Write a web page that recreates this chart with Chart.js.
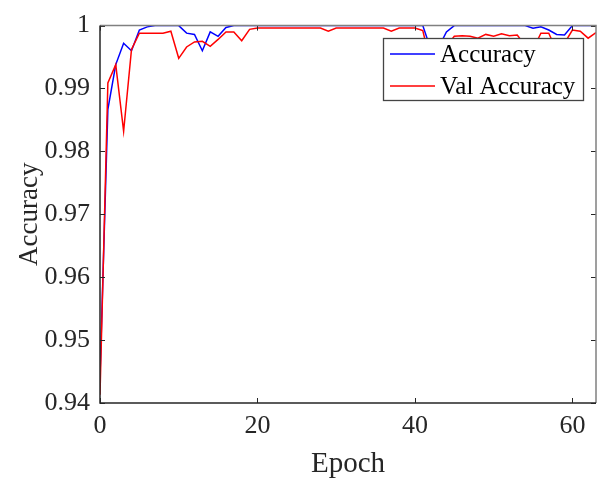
<!DOCTYPE html>
<html>
<head>
<meta charset="utf-8">
<script src="https://cdn.jsdelivr.net/npm/chart.js@4/dist/chart.umd.min.js"></script>
<style>
  html, body { margin: 0; padding: 0; background: #fff; }
  #wrap { width: 597px; height: 480px; }
</style>
</head>
<body>
<div id="wrap"><canvas id="chart" width="597" height="480"></canvas></div>
<script>
// epochs 0..63
const epochs = [
  0, 1, 2, 3, 4, 5, 6, 7, 8, 9, 10, 11, 12, 13, 14, 15,
  16, 17, 18, 19, 20, 21, 22, 23, 24, 25, 26, 27, 28, 29, 30, 31,
  32, 33, 34, 35, 36, 37, 38, 39, 40, 41, 42, 43, 44, 45, 46, 47,
  48, 49, 50, 51, 52, 53, 54, 55, 56, 57, 58, 59, 60, 61, 62, 63
];

const accuracy = [
  0.9442, 0.9867, 0.9938, 0.9972, 0.9960, 0.9993, 0.9998, 1.0000,
  1.0000, 1.0000, 1.0000, 0.9988, 0.9986, 0.9960, 0.9990, 0.9983,
  0.9997, 1.0000, 1.0000, 1.0000, 1.0000, 1.0000, 1.0000, 1.0000,
  1.0000, 1.0000, 1.0000, 1.0000, 1.0000, 1.0000, 1.0000, 1.0000,
  1.0000, 1.0000, 1.0000, 1.0000, 1.0000, 1.0000, 1.0000, 1.0000,
  1.0000, 1.0000, 0.9963, 0.9965, 0.9990, 1.0000, 1.0000, 1.0000,
  1.0000, 1.0000, 1.0000, 1.0000, 1.0000, 1.0000, 1.0000, 0.9996,
  0.9998, 0.9993, 0.9986, 0.9985, 1.0000, 1.0000, 1.0000, 1.0000
];

const valAccuracy = [
  0.9413, 0.9909, 0.9938, 0.9832, 0.9962, 0.9988, 0.9988, 0.9988,
  0.9988, 0.9991, 0.9948, 0.9966, 0.9974, 0.9975, 0.9967, 0.9978,
  0.9990, 0.9990, 0.9976, 0.9994, 0.9996, 0.9996, 0.9996, 0.9996,
  0.9996, 0.9996, 0.9996, 0.9996, 0.9996, 0.9991, 0.9996, 0.9996,
  0.9996, 0.9996, 0.9996, 0.9996, 0.9996, 0.9991, 0.9996, 0.9996,
  0.9996, 0.9992, 0.9940, 0.9955, 0.9967, 0.9983, 0.9984, 0.9983,
  0.9980, 0.9986, 0.9983, 0.9987, 0.9984, 0.9985, 0.9968, 0.9962,
  0.9988, 0.9988, 0.9960, 0.9972, 0.9993, 0.9991, 0.9980, 0.9989
];

const xTicks = [0, 20, 40, 60];
const yTicks = [0.94, 0.95, 0.96, 0.97, 0.98, 0.99, 1];

const AXIS = '#262626';
const FONT = "'Liberation Serif', 'Times New Roman', serif";

// MATLAB style box with inward ticks on all four sides
const boxPlugin = {
  id: 'box',
  afterDraw(chart) {
    const { ctx, chartArea: a, scales } = chart;
    const len = 5;
    ctx.save();
    ctx.lineWidth = 1;
    ctx.strokeStyle = AXIS;
    ctx.beginPath();
    xTicks.forEach(t => {
      const x = Math.round(scales.x.getPixelForValue(t)) + 0.5;
      ctx.moveTo(x, a.bottom); ctx.lineTo(x, a.bottom - len);
      ctx.moveTo(x, a.top); ctx.lineTo(x, a.top + len);
    });
    yTicks.forEach(t => {
      const y = Math.round(scales.y.getPixelForValue(t)) + 0.5;
      ctx.moveTo(a.left, y); ctx.lineTo(a.left + len, y);
      ctx.moveTo(a.right, y); ctx.lineTo(a.right - len, y);
    });
    ctx.stroke();

    // top and right edges, lighter
    ctx.lineWidth = 1.5;
    ctx.strokeStyle = '#808080';
    ctx.beginPath();
    ctx.moveTo(a.left, a.top); ctx.lineTo(a.right, a.top); ctx.lineTo(a.right, a.bottom);
    ctx.stroke();

    // left and bottom axes
    ctx.strokeStyle = AXIS;
    ctx.beginPath();
    ctx.moveTo(a.left, a.top); ctx.lineTo(a.left, a.bottom); ctx.lineTo(a.right, a.bottom);
    ctx.stroke();
    ctx.restore();
  }
};

// legend box in the top-right corner of the axes
const legendPlugin = {
  id: 'boxLegend',
  afterDatasetsDraw(chart) {
    const { ctx } = chart;
    const x0 = 383, y0 = 38, w = 200, h = 62;
    ctx.save();
    ctx.fillStyle = '#fff';
    ctx.fillRect(x0, y0, w, h);
    ctx.strokeStyle = '#444';
    ctx.lineWidth = 1.3;
    ctx.strokeRect(x0 + 0.5, y0 + 0.5, w, h);
    ctx.font = '25px ' + FONT;
    ctx.textBaseline = 'middle';
    chart.data.datasets.forEach((ds, i) => {
      const y = y0 + 16 + i * 32;
      ctx.strokeStyle = ds.borderColor;
      ctx.lineWidth = 1.5;
      ctx.beginPath();
      ctx.moveTo(x0 + 7, y); ctx.lineTo(x0 + 52, y);
      ctx.stroke();
      ctx.fillStyle = '#000';
      ctx.fillText(ds.label, x0 + 57, y + 1);
    });
    ctx.restore();
  }
};

new Chart(document.getElementById('chart'), {
  type: 'line',
  data: {
    datasets: [
      {
        label: 'Accuracy',
        data: epochs.map((e, i) => ({ x: e, y: accuracy[i] })),
        borderColor: '#0000ff',
        borderWidth: 1.5,
        pointRadius: 0,
        tension: 0,
        order: 1
      },
      {
        label: 'Val Accuracy',
        data: epochs.map((e, i) => ({ x: e, y: valAccuracy[i] })),
        borderColor: '#ff0000',
        borderWidth: 1.5,
        pointRadius: 0,
        tension: 0,
        order: 0
      }
    ]
  },
  options: {
    responsive: false,
    animation: false,
    layout: { padding: { top: 24, right: 1, left: 0, bottom: 0 } },
    plugins: {
      legend: { display: false },
      tooltip: { enabled: false }
    },
    scales: {
      x: {
        type: 'linear',
        min: 0,
        max: 63,
        afterFit: s => { s.height = 77; },
        afterBuildTicks: s => { s.ticks = xTicks.map(v => ({ value: v })); },
        grid: { display: false, drawTicks: false },
        border: { display: false },
        ticks: {
          color: AXIS,
          padding: 8,
          maxRotation: 0,
          font: { family: FONT, size: 26 }
        },
        title: {
          display: true,
          text: 'Epoch',
          color: AXIS,
          padding: { top: 0, bottom: -2 },
          font: { family: FONT, size: 29 }
        }
      },
      y: {
        min: 0.94,
        max: 1,
        afterFit: s => { s.width = 100; },
        afterBuildTicks: s => { s.ticks = yTicks.map(v => ({ value: v })); },
        grid: { display: false, drawTicks: false },
        border: { display: false },
        ticks: {
          color: AXIS,
          padding: 10,
          font: { family: FONT, size: 26 },
          callback: v => String(+v.toFixed(2))
        },
        title: {
          display: true,
          text: 'Accuracy',
          color: AXIS,
          padding: { top: 14, bottom: 0 },
          font: { family: FONT, size: 27 }
        }
      }
    }
  },
  plugins: [legendPlugin, boxPlugin]
});
</script>
</body>
</html>
